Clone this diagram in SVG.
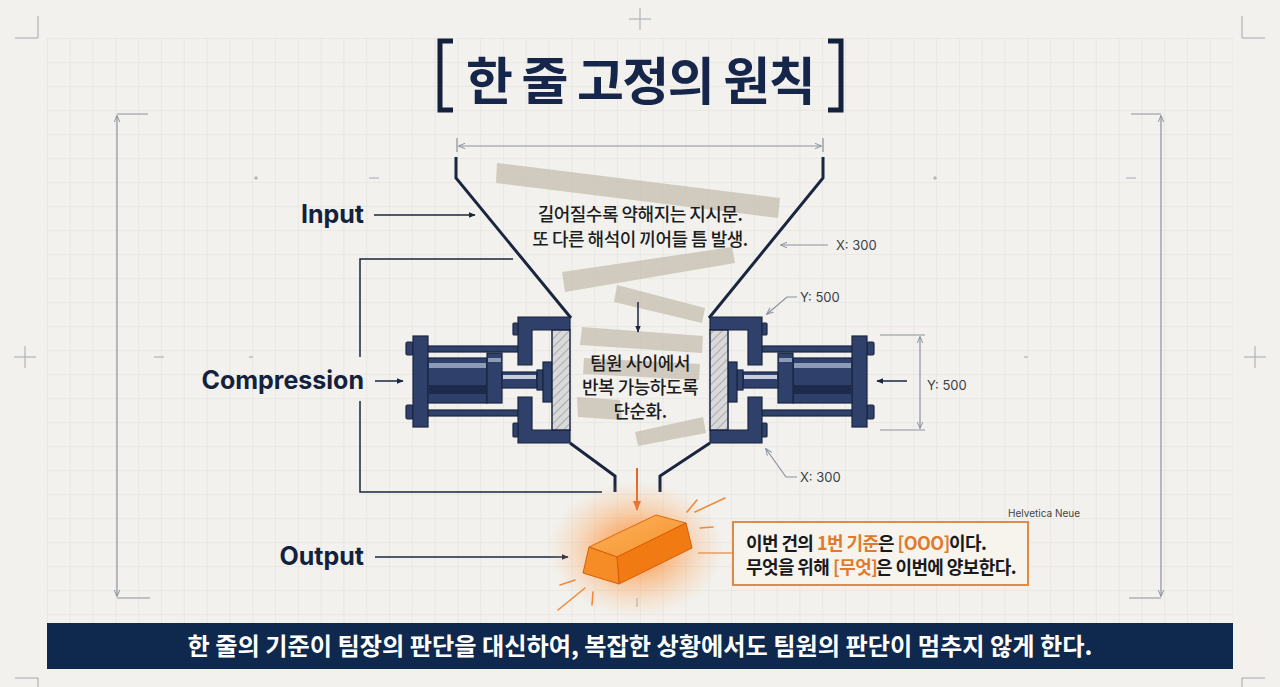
<svg xmlns="http://www.w3.org/2000/svg" width="1280" height="687" viewBox="0 0 1280 687">
<defs>
<style>
.ko{font-family:"Noto Sans CJK KR","Noto Sans",sans-serif;}
.lat{font-family:Inter,"Liberation Sans",sans-serif;}
.lbl{font-size:25px;font-weight:700;fill:#14213d;text-anchor:end;}
.dim{fill:none;stroke:#8b929c;stroke-width:1.2;}
.dimt{font-size:13px;fill:#3a3f48;}
.navy{fill:none;stroke:#1a2540;stroke-width:1.5;}
.funnel{fill:none;stroke:#1a2540;stroke-width:3;stroke-linejoin:miter;}
.tape{fill:#c4bcad;opacity:0.72;}
.mtl{fill:#2f416a;stroke:#1a2540;stroke-width:1.2;}
.hi{fill:#8e9bb8;}
.dk{fill:#1c2b4c;}
.ray{stroke:#f08a3a;stroke-width:1.6;fill:none;stroke-linecap:round;}
.mark{stroke:#a3a7ad;stroke-width:1;fill:none;}
.bt{font-size:18px;font-weight:500;fill:#1d1d1f;text-anchor:middle;letter-spacing:-0.5px;}
.ct{font-size:18px;font-weight:700;fill:#1a1a1a;letter-spacing:-0.6px;}
.or{fill:#e07b2e;}
</style>
<pattern id="grid" patternUnits="userSpaceOnUse" x="47" y="38" width="22.8" height="24">
<path d="M0,0 V24 M0,0 H22.8" fill="none" stroke="#dcdad3" stroke-width="0.8"/>
</pattern>
<pattern id="hatch" patternUnits="userSpaceOnUse" width="6" height="6" patternTransform="rotate(45)">
<rect width="6" height="6" fill="#d9d9d9"/>
<line x1="0" y1="0" x2="0" y2="6" stroke="#8a8a8a" stroke-width="1.2"/>
</pattern>
<radialGradient id="glow" cx="0.5" cy="0.5" r="0.5">
<stop offset="0" stop-color="#ff6a00" stop-opacity="0.8"/>
<stop offset="0.45" stop-color="#ff8a2a" stop-opacity="0.45"/>
<stop offset="1" stop-color="#ffb070" stop-opacity="0"/>
</radialGradient>
<linearGradient id="topf" x1="0" y1="0" x2="1" y2="1">
<stop offset="0" stop-color="#fbb35c"/>
<stop offset="1" stop-color="#f7922e"/>
</linearGradient>
<marker id="an" viewBox="0 0 10 10" refX="9" refY="5" markerWidth="7" markerHeight="7" orient="auto-start-reverse" markerUnits="userSpaceOnUse">
<path d="M0,1 L10,5 L0,9 Z" fill="#1a2540"/>
</marker>
<marker id="ag" viewBox="0 0 10 10" refX="9" refY="5" markerWidth="7" markerHeight="7" orient="auto-start-reverse" markerUnits="userSpaceOnUse">
<path d="M0,1 L10,5 L0,9" fill="none" stroke="#8b929c" stroke-width="1.4"/>
</marker>
<marker id="ao" viewBox="0 0 10 10" refX="9" refY="5" markerWidth="10" markerHeight="10" orient="auto" markerUnits="userSpaceOnUse">
<path d="M0,1 L10,5 L0,9 Z" fill="#e2662a"/>
</marker>
<g id="press">
<rect class="mtl" x="428" y="346" width="90" height="6"/>
<rect class="mtl" x="428" y="410" width="90" height="6"/>
<rect class="mtl" x="406" y="342" width="7" height="13" rx="1.5"/>
<rect class="mtl" x="406" y="405" width="7" height="14" rx="1.5"/>
<rect class="mtl" x="413" y="336" width="15" height="91"/>
<rect class="mtl" x="428" y="358" width="59" height="45"/>
<rect class="hi" x="429" y="363" width="57" height="5"/>
<rect class="dk" x="429" y="385" width="57" height="9"/>
<rect class="mtl" x="487" y="353" width="15" height="50"/>
<rect class="hi" x="488" y="358" width="13" height="4"/>
<rect class="mtl" x="502" y="372" width="35" height="16"/>
<rect x="503" y="375" width="33" height="4" fill="#c7cfdf"/>
<rect class="mtl" x="537" y="370" width="6" height="20"/>
<rect class="mtl" x="543" y="362" width="9" height="40"/>
<path class="mtl" d="M518,317 H570 V330 H532 V365 H518 Z"/>
<path class="mtl" d="M518,443 H570 V430 H532 V397 H518 Z"/>
<rect class="mtl" x="513" y="323" width="5" height="12" rx="1"/>
<rect class="mtl" x="513" y="423" width="5" height="14" rx="1"/>
</g>
</defs>

<rect width="1280" height="687" fill="#f2f1ed"/>
<rect x="47" y="38" width="1186" height="585" fill="url(#grid)"/>

<g id="frame-marks">
<path class="mark" d="M15,38 H38 V16"/>
<path class="mark" d="M1265,38 H1242 V16"/>
<path class="mark" d="M15,678 H38 V687"/>
<path class="mark" d="M1265,678 H1242 V687"/>
<path class="mark" d="M640,8 V30 M629,19 H651"/>
<path class="mark" d="M25,346 V368 M14,357 H36"/>
<path class="mark" d="M1255,346 V368 M1244,357 H1266"/>
<path class="mark" d="M254,178 H258 M256,176 V180 M369,178 H379 M933,178 H937 M935,176 V180 M1126,178 H1136 M154,357 H164 M249,357 H253 M1024,357 H1028 M637,598 V607"/>
</g>

<g id="dimensions">
<path class="dim" d="M117,114 H148 M117,598 H150 M1131,114 H1161 M1129,598 H1161"/>
<line class="dim" x1="117" y1="116" x2="117" y2="596" marker-start="url(#ag)" marker-end="url(#ag)"/>
<line class="dim" x1="1161" y1="116" x2="1161" y2="596" marker-start="url(#ag)" marker-end="url(#ag)"/>
<path class="dim" d="M457,138 V152 M823,138 V152"/>
<line class="dim" x1="459" y1="146" x2="821" y2="146" marker-start="url(#ag)" marker-end="url(#ag)"/>
<path class="dim" d="M880,335 H925 M880,430 H925"/>
<line class="dim" x1="920" y1="337" x2="920" y2="428" marker-start="url(#ag)" marker-end="url(#ag)"/>
<line class="dim" x1="828" y1="245" x2="781" y2="245" marker-end="url(#ag)"/>
<polyline class="dim" points="797,297 787,297 767,314" marker-end="url(#ag)"/>
<polyline class="dim" points="797,477 786,477 766,449" marker-end="url(#ag)"/>
<text class="lat dimt" x="836" y="250">X: 300</text>
<text class="lat dimt" x="800" y="302">Y: 500</text>
<text class="lat dimt" x="800" y="482">X: 300</text>
<text class="lat dimt" x="927" y="390">Y: 500</text>
</g>

<g id="title">
<path d="M453,41 H440 V110 H453" fill="none" stroke="#14213d" stroke-width="5"/>
<path d="M828,41 H841 V110 H828" fill="none" stroke="#14213d" stroke-width="5"/>
<text class="ko" x="640" y="100" text-anchor="middle" font-size="51" font-weight="700" fill="#16254a" letter-spacing="-1.5">한 줄 고정의 원칙</text>
</g>

<g id="tapes">
<polygon class="tape" points="497,163 780,198 778,218 496,183"/>
<polygon class="tape" points="562,272 732,247 735,263 565,292"/>
<polygon class="tape" points="617,285 705,308 702,323 614,302"/>
<polygon class="tape" points="582,327 703,336 702,353 580,345"/>
<polygon class="tape" points="584,358 700,364 699,380 583,374" opacity="0.5"/>
<polygon class="tape" points="577,397 620,400 622,420 578,417"/>
<polygon class="tape" points="635,432 703,417 706,433 638,446"/>
</g>

<g id="funnel">
<polyline class="funnel" points="456,157 456,178 571,318"/>
<polyline class="funnel" points="823,157 823,178 709,318"/>
<polyline class="funnel" points="570,443 615,476 615,492"/>
<polyline class="funnel" points="710,443 660,476 660,492"/>
<text class="ko bt" x="640" y="221">길어질수록 약해지는 지시문.</text>
<text class="ko bt" x="640" y="246">또 다른 해석이 끼어들 틈 발생.</text>
</g>

<g id="press-left">
<use href="#press"/>
<rect x="552" y="330" width="18" height="100" fill="url(#hatch)" stroke="#1a2540" stroke-width="1.5"/>
</g>
<g id="press-right">
<use href="#press" transform="translate(1280,0) scale(-1,1)"/>
<rect x="710" y="330" width="18" height="100" fill="url(#hatch)" stroke="#1a2540" stroke-width="1.5"/>
</g>

<g id="compression-text">
<text class="ko bt" x="640" y="370">팀원 사이에서</text>
<text class="ko bt" x="640" y="394">반복 가능하도록</text>
<text class="ko bt" x="640" y="418">단순화.</text>
</g>

<g id="labels">
<text class="lat lbl" x="364" y="223">Input</text>
<text class="lat lbl" x="364" y="389">Compression</text>
<text class="lat lbl" x="364" y="565">Output</text>
</g>

<g id="connectors">
<line x1="374" y1="215" x2="475" y2="215" stroke="#1a2540" stroke-width="1.5" marker-end="url(#an)"/>
<line x1="375" y1="381" x2="403" y2="381" stroke="#1a2540" stroke-width="1.5" marker-end="url(#an)"/>
<line x1="375" y1="557" x2="568" y2="557" stroke="#1a2540" stroke-width="1.5" marker-end="url(#an)"/>
<line x1="907" y1="381" x2="877" y2="381" stroke="#1a2540" stroke-width="1.5" marker-end="url(#an)"/>
<line x1="638" y1="302" x2="638" y2="332" stroke="#1a2540" stroke-width="1.5" marker-end="url(#an)"/>
<path class="navy" d="M513,259 H360 V357 M360,401 V492 H602" stroke-width="1.2"/>
<line x1="637" y1="468" x2="637" y2="510" stroke="#e2662a" stroke-width="2" marker-end="url(#ao)"/>
<line x1="698" y1="553" x2="733" y2="553" stroke="#e89a60" stroke-width="1.4"/>
</g>

<g id="output-bar">
<ellipse cx="636" cy="549" rx="88" ry="68" fill="url(#glow)"/>
<polygon points="589,547 656,515 686,523 617,557" fill="url(#topf)" stroke="#e06a10" stroke-width="1"/>
<polygon points="617,557 686,523 692,548 619,584" fill="#f27a12" stroke="#d85e08" stroke-width="1"/>
<polygon points="589,547 617,557 619,584 583,573" fill="#f68c26" stroke="#d85e08" stroke-width="1"/>
<line class="ray" x1="687" y1="512" x2="697" y2="500"/>
<line class="ray" x1="695" y1="512" x2="725" y2="498"/>
<line class="ray" x1="700" y1="528" x2="713" y2="527"/>
<line class="ray" x1="560" y1="585" x2="575" y2="580"/>
<line class="ray" x1="558" y1="610" x2="585" y2="588"/>
<line class="ray" x1="592" y1="605" x2="593" y2="592"/>
</g>

<g id="callout">
<text class="lat" x="1008" y="517" font-size="10" fill="#444">Helvetica Neue</text>
<rect x="733" y="522" width="295" height="63" fill="#f7f4ee" stroke="#e08a4a" stroke-width="2"/>
<text class="ko ct" x="746" y="550">이번 건의</text>
<text class="ko ct or" x="817" y="550">1번 기준</text>
<text class="ko ct" x="878" y="550">은</text>
<text class="ko ct or" x="897.5" y="550">[OOO]</text>
<text class="ko ct" x="949" y="550">이다.</text>
<text class="ko ct" x="746" y="574">무엇을 위해</text>
<text class="ko ct or" x="833" y="574">[무엇]</text>
<text class="ko ct" x="876" y="574">은 이번에 양보한다.</text>
</g>

<g id="banner">
<rect x="47" y="623" width="1186" height="46" fill="#0f284d"/>
<text class="ko" x="640" y="655" text-anchor="middle" font-size="24.2" font-weight="700" fill="#ffffff" letter-spacing="0">한 줄의 기준이 팀장의 판단을 대신하여, 복잡한 상황에서도 팀원의 판단이 멈추지 않게 한다.</text>
</g>
</svg>
